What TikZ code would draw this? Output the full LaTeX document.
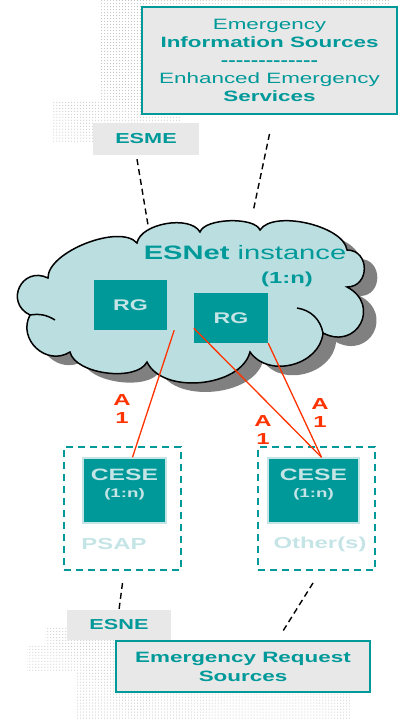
\documentclass[tikz,border=0pt]{standalone}
\usepackage{fontspec}
\setmainfont{Liberation Sans}[FakeStretch=1.5]
\usetikzlibrary{patterns}

\definecolor{esteal}{RGB}{0,153,153}
\definecolor{eslight}{RGB}{196,228,230}
\definecolor{esgray}{RGB}{232,232,232}
\definecolor{escloud}{RGB}{187,223,225}
\definecolor{esshadow}{RGB}{128,128,128}
\definecolor{esred}{RGB}{255,51,0}
\definecolor{esdots}{RGB}{185,185,185}

\newcommand\hy{-\kern0pt}
\newcommand\hyrow{\hy\hy\hy\hy\hy\hy\hy\hy\hy\hy\hy\hy\hy}
% outline of the ESNet cloud, one puff per step
\newcommand\esnetpuffs{(48,278) to[bend left=70, looseness=0.7] (137,243)
  to[bend left=70, looseness=0.8] (200,232)
  to[bend left=70, looseness=0.62] (260,230)
  to[bend left=70, looseness=0.7] (347,250)
  to[bend left=90, looseness=1.6] (347,287)
  to[bend left=90, looseness=1.9] (323,333)
  to[bend left=70, looseness=1.1] (250,352)
  to[bend left=70, looseness=0.9] (147,362)
  to[bend left=70, looseness=0.75] (70,352)
  to[bend left=75, looseness=1.3] (30,315)
  to[bend left=90, looseness=1.8] (48,278) -- cycle}

\tikzset{
  srcbox/.style={draw=esteal, line width=2bp, fill=esgray, text=esteal,
    align=center, inner sep=0pt},
  tagbox/.style={fill=esgray, text=esteal, inner sep=0pt,
    font=\bfseries\fontsize{14.5}{17}\selectfont},
  cloudline/.style={black, line width=1.5bp},
  rgbox/.style={fill=esteal, text=eslight, inner sep=0pt,
    minimum width=73bp, minimum height=50bp,
    font=\bfseries\fontsize{15.5}{18}\selectfont},
  sitebox/.style={draw=esteal, line width=2bp, dash pattern=on 7bp off 5bp,
    minimum width=117bp, minimum height=123bp, inner sep=0pt},
  cesebox/.style={fill=esteal, draw=eslight, line width=1.5bp,
    minimum height=65bp, inner sep=0pt},
  cesetext/.style={text=eslight, align=center,
    font=\bfseries\fontsize{16.5}{19}\selectfont},
  sitename/.style={text=eslight, font=\bfseries\fontsize{16}{19}\selectfont},
  feed/.style={esred, line width=1.3bp},
  tag/.style={text=esred, align=center,
    font=\bfseries\fontsize{16}{19}\selectfont},
  link/.style={black, line width=1.4bp, dash pattern=on 6bp off 4bp}
}

\begin{document}
\begin{tikzpicture}[x=1bp, y=-1bp]
\useasboundingbox (0,0) rectangle (398,721);

% dotted shadows behind the source boxes
\fill[pattern=dots, pattern color=esdots] (100,0) rectangle (390,100)
  (53,100) rectangle (180,143);
\fill[pattern=dots, pattern color=esdots] (45,628) rectangle (116,645)
  (27,645) rectangle (116,672) (75,672) rectangle (350,720);

% top: information sources
\node[srcbox, minimum width=255bp, minimum height=107bp,
  font=\fontsize{15}{18}\selectfont] (info) at (269.5,60.5)
  {Emergency\\\textbf{Information Sources}\\\textbf{\hyrow}\\Enhanced Emergency\\\textbf{Services}};
\node[tagbox, minimum width=106bp, minimum height=32bp] (esme) at (146,139) {ESME};

\coordinate (esme-in) at (148,225);
\coordinate (info-in) at (253,212);
\draw[link] ([xshift=-9bp,yshift=-4bp]esme.south) -- (esme-in);
\draw[link] ([yshift=-19bp]info.south) -- (info-in);

% the ESNet cloud
\fill[esshadow, shift={(13,9)}] \esnetpuffs;
\filldraw[cloudline, fill=escloud] \esnetpuffs;
\draw[cloudline] (297,308) to[bend left=35] (323,333);
\draw[cloudline] (30,315) to[bend left=20] (55,320);
\node[text=esteal, font=\fontsize{19.5}{22}\selectfont] (title) at (245,253)
  {\textbf{ESNet} instance};
\node[text=esteal, font=\bfseries\fontsize{16}{19}\selectfont] (count) at (287,279) {(1:n)};

\node[rgbox] (rg1) at (130.5,305) {RG};
\node[rgbox, minimum width=74bp] (rg2) at (231,318) {RG};

% sites
\node[sitebox] (psap) at (122.5,508.5) {};
\node[sitebox] (other) at (316.5,508.5) {};
\node[cesebox, minimum width=83bp] (cese1) at (124.5,490.5) {};
\node[cesebox, minimum width=91bp] (cese2) at (313.5,490.5) {};
\node[cesetext] (cese1t) at ([yshift=6bp]cese1.center)
  {CESE\\[-2bp]{\fontsize{12.5}{15}\selectfont(1:n)}};
\node[cesetext] (cese2t) at ([yshift=6bp]cese2.center)
  {CESE\\[-2bp]{\fontsize{12.5}{15}\selectfont(1:n)}};
\node[sitename] (psapt) at (114,544) {PSAP};
\node[sitename] (othert) at (320,544) {Other(s)};

% A1 links
\draw[feed] ([xshift=7bp]rg1.south east) -- ([xshift=8bp]cese1.north);
\draw[feed] ([yshift=15bp]rg2.south west) -- ([xshift=8bp]cese2.north);
\draw[feed] (rg2.south east) -- ([xshift=8bp]cese2.north);
\node[tag] (a1) at (122,409) {A\\1};
\node[tag] (a2) at (263,430) {A\\1};
\node[tag] (a3) at (320,413) {A\\1};

% bottom: request sources
\node[tagbox, minimum width=104bp, minimum height=30bp] (esne) at (119,625) {ESNE};
\node[srcbox, minimum width=254bp, minimum height=51bp,
  font=\bfseries\fontsize{15}{19}\selectfont] (ers) at (243,666.5)
  {Emergency Request\\Sources};
\draw[link] ([yshift=-12bp]psap.south) -- (esne.north);
\draw[link] ([xshift=-3.5bp,yshift=-12bp]other.south) -- ([xshift=40bp,yshift=9bp]ers.north);
\end{tikzpicture}
\end{document}
